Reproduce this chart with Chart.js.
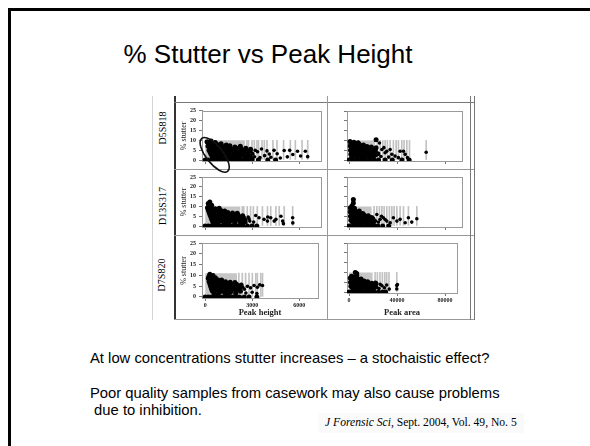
<!DOCTYPE html>
<html>
<head>
<meta charset="utf-8">
<script src="https://cdn.jsdelivr.net/npm/chart.js"></script>
<style>
  body { margin: 0; width: 590px; height: 446px; background: #fff; position: relative; overflow: hidden;
         font-family: "Liberation Sans", Arial, sans-serif; color: #000; }
  .frame { position: absolute; left: 8px; top: 8px; width: 700px; height: 600px;
           border-left: 3px solid #000; border-top: 3px solid #000; }
  .title { position: absolute; left: 0; width: 536px; top: 41px; text-align: center;
           font-size: 26px; line-height: 26px; }
  .note { position: absolute; font-size: 14.8px; line-height: 14.8px; white-space: pre; }
  .cite { position: absolute; left: 318px; top: 413px; padding: 4px 7px; background: #fafafa;
          font-family: "Liberation Serif", "Times New Roman", serif; font-size: 11.6px; line-height: 12px; white-space: pre; }
  .ln { position: absolute; }
  .rowlab { position: absolute; font-family: "Liberation Serif", "Times New Roman", serif; font-size: 10px;
            white-space: nowrap; transform: translate(-50%, -50%) rotate(-90deg); }
  canvas { position: absolute; }
</style>
</head>
<body>
<div class="frame"></div>
<div class="title">% Stutter vs Peak Height</div>

<!-- figure frame lines -->
<div class="ln" style="left:152px;top:96px;width:1px;height:224px;background:#d4d4d4"></div>
<div class="ln" style="left:174px;top:96px;width:2px;height:224px;background:#333"></div>
<div class="ln" style="left:174px;top:102px;width:300px;height:1px;background:#777"></div>
<div class="ln" style="left:174px;top:169px;width:300px;height:1px;background:#999"></div>
<div class="ln" style="left:174px;top:235px;width:300px;height:1px;background:#999"></div>
<div class="ln" style="left:174px;top:319px;width:300px;height:1px;background:#999"></div>
<div class="ln" style="left:327px;top:96px;width:1px;height:224px;background:#999"></div>
<div class="ln" style="left:470px;top:96px;width:1px;height:224px;background:#777"></div>
<div class="ln" style="left:474px;top:96px;width:1px;height:224px;background:#777"></div>

<div class="rowlab" style="left:162px;top:128px">D5S818</div>
<div class="rowlab" style="left:162px;top:206px">D13S317</div>
<div class="rowlab" style="left:161px;top:275px">D7S820</div>

<canvas id="p1" width="150" height="70" style="left:176px;top:104px"></canvas>
<canvas id="p2" width="150" height="64" style="left:176px;top:170px"></canvas>
<canvas id="p3" width="150" height="83" style="left:176px;top:236px"></canvas>
<canvas id="p4" width="140" height="64" style="left:329px;top:104px"></canvas>
<canvas id="p5" width="140" height="64" style="left:329px;top:170px"></canvas>
<canvas id="p6" width="140" height="83" style="left:329px;top:236px"></canvas>

<div class="note" style="left:90px;top:351px">At low concentrations stutter increases – a stochaistic effect?</div>
<div class="note" style="left:90px;top:386px">Poor quality samples from casework may also cause problems</div>
<div class="note" style="left:90px;top:403px"> due to inhibition.</div>
<div class="cite"><i>J Forensic Sci</i>, Sept. 2004, Vol. 49, No. 5</div>

<script>
/* Axis ticks */
var stutterTicks = [0, 5, 10, 15, 20, 25];
var heightTicks = [0, 3000, 6000];
var areaTicks = [0, 40000, 80000];

/* D5S818 - % stutter against peak height  [peak height, % stutter] */
var d5s818Height = [
  [120,9.2],[380,9.6],[650,8.9],
  [220,8.1],[480,8.4],[760,7.9],[1020,8.2],[1350,7.6],
  [180,7.0],[430,7.3],[700,6.8],[980,7.1],[1260,6.9],[1580,7.2],[1900,6.6],[2250,6.9],
  [300,6.1],[560,5.8],[830,6.2],[1120,5.9],[1420,6.0],[1700,5.6],[2000,6.0],[2300,5.7],[2600,5.9],[2900,5.4],
  [250,5.0],[520,4.8],[800,5.1],[1080,4.7],[1380,4.9],[1650,5.2],[1950,4.8],[2250,4.6],[2550,5.0],[2850,4.5],[3200,4.9],
  [320,3.9],[600,4.1],[900,3.8],[1200,4.0],[1500,3.7],[1800,4.0],[2100,3.8],[2400,3.6],[2700,3.9],[3000,3.5],[3350,4.2],
  [380,2.9],[680,3.1],[950,2.7],[1250,3.0],[1550,2.8],[1850,3.1],[2150,2.7],[2450,2.9],[2750,2.6],[3050,3.0],
  [450,1.9],[750,2.1],[1050,1.8],[1350,2.0],[1650,1.7],[1950,2.1],[2250,1.9],[2550,1.7],[2850,2.0],[3150,1.6],
  [550,1.0],[950,1.1],[1400,0.9],[1800,1.2],[2200,1.0],[2650,0.9],[3000,1.1],
  [3600,5.6],[3800,2.2],[3950,4.6],[4200,1.4],[4400,4.9],[4600,3.2],[4800,1.0],[5050,4.8],[5250,1.6],
  [5400,4.9],[5600,2.8],[5900,4.4],[6100,2.0],[6400,4.4],[6550,1.7],[3500,1.2],[4100,3.0]
];
var d5s818HeightZero = [0,200,400,600,800,1000,1200,1400,1600,1800,2000,2200,2400,2600,2800,3000,3400,4000,4500];
var d5s818HeightBand = [0, 2560];
var d5s818HeightLines = [2670,2770,2990,3140,3310,3410,3630,3780,3950,4330,4590,5010,5440,5760,6190,6550];
/* circled low-signal region: centre in data units */
var d5s818Circle = [610, 2.6];

/* D13S317 - % stutter against peak height */
var d13s317Height = [
  [200,11.5],[300,12.2],[420,10.6],[250,10.2],
  [150,9.3],[400,9.6],[650,8.8],[900,9.0],
  [200,8.2],[480,8.0],[750,8.4],[1000,7.9],[1250,7.7],
  [250,7.1],[550,6.9],[850,7.2],[1150,6.8],[1450,6.9],[1750,6.6],[2050,6.5],
  [300,6.0],[600,5.8],[900,6.1],[1200,5.7],[1500,5.9],[1800,5.6],[2100,5.8],[2400,5.3],
  [350,5.0],[650,4.8],[950,5.1],[1250,4.7],[1550,4.9],[1850,4.6],[2150,4.8],[2450,4.4],[2750,4.6],
  [400,3.9],[700,4.0],[1000,3.7],[1300,4.0],[1600,3.8],[1900,3.6],[2200,3.9],[2500,3.5],[2800,3.7],
  [450,2.9],[750,3.1],[1050,2.7],[1350,3.0],[1650,2.8],[1950,3.0],[2250,2.6],[2550,2.9],[2850,2.5],
  [500,1.9],[850,2.1],[1200,1.8],[1550,2.0],[1900,1.7],[2250,2.0],[2600,1.8],
  [700,1.1],[1300,0.9],[1900,1.2],[2400,0.9],
  [3230,5.4],[3440,4.2],[3760,3.4],[3980,2.5],[4190,4.2],[4410,2.5],[4520,3.4],[4840,5.0],[4950,2.5],
  [5590,4.2],[3100,2.0],[4000,4.6],[5000,1.2],[5600,1.6]
];
var d13s317HeightZero = [0,200,400,600,800,1000,1200,1400,1600,1800,2000,2200,2400,2700,3000,3300];
var d13s317HeightBand = [0, 2260];
var d13s317HeightLines = [2370,2470,2690,2900,3080,3330,3660,3980,4190,4520,4730,5050,5590];

/* D7S820 - % stutter against peak height */
var d7s820Height = [
  [300,10.5],[500,9.9],[250,9.6],
  [400,9.0],[650,8.9],[200,8.7],
  [300,8.1],[550,8.3],[800,8.0],[1050,7.8],
  [250,7.1],[500,7.0],[750,7.3],[1000,6.9],[1300,7.0],[1600,6.8],[1900,6.7],
  [300,6.1],[550,5.9],[800,6.2],[1100,5.8],[1400,6.0],[1700,5.7],[2000,5.9],[2300,5.5],
  [350,5.0],[600,4.8],[900,5.1],[1200,4.7],[1500,4.9],[1800,4.6],[2100,4.8],[2400,4.5],[2700,4.9],
  [400,3.9],[700,4.0],[1000,3.7],[1300,4.0],[1600,3.8],[1900,3.6],[2200,3.9],[2500,3.6],
  [450,2.9],[750,3.1],[1050,2.7],[1350,3.0],[1650,2.8],[1950,3.0],[2250,2.6],
  [550,1.9],[900,2.1],[1250,1.8],[1600,2.0],[1950,1.7],
  [800,1.0],[1400,1.1],
  [2900,4.2],[3120,5.3],[3330,4.5],[3480,5.6],[3660,5.3],[2600,1.8],[3000,2.2],[3300,1.6]
];
var d7s820HeightZero = [0,200,400,600,800,1000,1200,1400,1600,1800,2000,2200,2500,2800,3300];
var d7s820HeightBand = [0, 2040];
var d7s820HeightLines = [2150,2370,2580,2800,3010,3230,3330,3550,3660];

/* D5S818 - % stutter against peak area */
var d5s818Area = [
  [800,9.4],[4000,9.1],[7500,8.8],
  [1500,8.2],[5000,7.9],[8500,8.1],[12000,7.7],
  [1000,7.2],[4500,6.9],[8000,7.1],[11500,6.8],[15000,6.9],[18500,6.6],
  [2000,6.1],[5500,5.8],[9000,6.0],[12500,5.7],[16000,5.9],[19500,5.6],[22500,6.2],
  [1200,5.0],[4800,4.8],[8300,5.1],[11800,4.7],[15300,4.9],[18800,4.6],[21800,4.8],
  [2500,3.9],[6000,4.0],[9500,3.7],[13000,4.0],[16500,3.8],[20000,3.6],
  [1500,2.9],[5000,3.1],[8500,2.7],[12000,3.0],[15500,2.8],[19000,3.0],[22000,2.6],
  [3000,1.9],[6500,2.1],[10000,1.8],[13500,2.0],[17000,1.7],[20500,2.0],
  [2000,1.0],[7000,1.1],[12000,0.9],[17500,1.2],
  [22500,10.4],[25300,8.7],[27300,5.4],[30000,3.7],[31400,4.5],[34200,5.4],[35600,2.9],[38300,2.0],
  [41100,1.2],[42500,4.5],[45300,4.5],[46700,2.9],[48600,1.2],[64200,4.0],[24000,3.2],[26500,1.8],
  [29000,6.3],[33000,1.5]
];
var d5s818AreaZero = [0,3500,7000,10500,14000,17500,21000,24500,30000,36000,44000,50000];
var d5s818AreaBand = [0, 21700];
var d5s818AreaLines = [23600,25800,28100,30000,31900,34200,36900,39200,41100,43900,45800,48100,50300,64200];

/* D13S317 - % stutter against peak area */
var d13s317Area = [
  [3600,13.5],[3600,11.8],[2500,10.4],
  [1000,9.3],[4500,9.0],
  [1500,8.2],[5000,7.9],[8500,7.6],
  [1000,7.2],[4500,6.9],[8000,6.8],[11500,6.4],
  [2000,6.1],[5500,5.8],[9000,6.0],[12500,5.6],[16000,5.2],
  [1200,5.0],[4800,4.8],[8300,5.1],[11800,4.7],[15300,4.6],[18800,4.3],
  [2500,3.9],[6000,4.0],[9500,3.7],[13000,4.0],[16500,3.8],[20000,3.6],
  [1500,2.9],[5000,3.1],[8500,2.7],[12000,3.0],[15500,2.8],[19000,3.0],[22000,2.6],
  [3000,1.9],[6500,2.1],[10000,1.8],[13500,2.0],[17000,1.7],[20500,2.0],
  [4000,1.0],[9000,1.1],[14000,0.9],[19000,1.2],
  [23100,5.9],[25800,3.4],[28600,4.2],[31400,2.5],[34200,1.7],[36900,4.2],[39800,2.5],[42500,3.4],
  [46700,1.7],[49400,4.2],[52200,2.0],[56400,3.7],[24500,2.0],[27000,5.0],[30000,3.3]
];
var d13s317AreaZero = [0,3500,7000,10500,14000,17500,21000,24000,28000,33000];
var d13s317AreaBand = [0, 18900];
var d13s317AreaLines = [20800,23100,25300,27300,29200,31400,33600,35600,37500,39800,42500,45300,49400,56400];

/* D7S820 - % stutter against peak area */
var d7s820Area = [
  [6400,9.4],[6400,8.5],[5200,9.9],
  [2000,8.0],[4500,7.6],
  [1000,7.2],[3600,7.2],[7000,6.9],[10000,6.6],
  [2000,6.1],[5500,5.8],[9000,6.0],[12500,5.6],[15500,5.3],
  [1200,5.0],[4800,4.8],[8300,5.1],[11800,4.7],[15300,4.6],[18800,4.5],[22000,4.6],
  [2500,3.9],[6000,4.0],[9500,3.7],[13000,4.0],[16500,3.8],[20000,3.6],[23100,4.4],[26000,3.9],
  [1500,2.9],[5000,3.1],[8500,2.7],[12000,3.0],[15500,2.8],[19000,3.0],[22500,2.6],[27500,3.2],[31400,3.6],
  [3000,1.9],[6500,2.1],[10000,1.8],[13500,2.0],[17000,1.7],[20500,2.0],[25000,1.8],
  [4000,1.0],[9000,1.1],[14000,0.9],[19000,1.2],
  [39800,3.3],[39800,1.6],[40300,3.8],[29500,2.2],[33500,1.5]
];
var d7s820AreaZero = [0,3500,7000,10500,14000,17500,21000,24500,28000,30500];
var d7s820AreaBand = [0, 19800];
var d7s820AreaLines = [21700,23600,25800,27800,29800,31400,33300,39800];

/* Draw a light box round the plotting area of every panel. */
var boxFrame = {
  id: 'boxFrame',
  beforeDatasetsDraw: function(chart) {
    var a = chart.chartArea, ctx = chart.ctx;
    ctx.save();
    ctx.strokeStyle = '#9a9a9a';
    ctx.lineWidth = 1;
    ctx.strokeRect(Math.round(a.left) + 0.5, Math.round(a.top) + 0.5,
                   Math.round(a.right - a.left), Math.round(a.bottom - a.top));
    ctx.restore();
  }
};

/* Hand-drawn ellipse round the low peak heights (first panel only). */
var circleMark = {
  id: 'circleMark',
  afterDatasetsDraw: function(chart, args, opts) {
    if (!opts.centre) return;
    var ctx = chart.ctx;
    var cx = chart.scales.x.getPixelForValue(opts.centre[0]);
    var cy = chart.scales.y.getPixelForValue(opts.centre[1]);
    ctx.save();
    ctx.strokeStyle = '#111';
    ctx.lineWidth = 1.6;
    ctx.beginPath();
    ctx.ellipse(cx, cy, 21, 8.5, 52 * Math.PI / 180, 0, 2 * Math.PI);
    ctx.stroke();
    ctx.restore();
  }
};

Chart.defaults.font.family = "'Liberation Serif', 'Times New Roman', serif";
Chart.defaults.color = '#222';

/* Builds one panel of the figure. p holds the panel's data and its layout. */
function create_panel(p) {
  var pts = p.points.map(function(d) { return {x: d[0], y: d[1]}; });
  var zero = p.zero.map(function(v) { return {x: v, y: 0}; });
  var lines = p.lines.map(function(v) { return {x: v, y: p.lineTop}; });
  var band = [{x: p.band[0], y: p.bandTop}, {x: p.band[1], y: p.bandTop}];

  new Chart(document.getElementById(p.id), {
    type: 'scatter',
    data: {
      datasets: [{
          type: 'line',
          data: band,
          backgroundColor: '#c6c6c6',
          borderWidth: 0,
          pointRadius: 0,
          fill: 'origin',
          order: 3
        },
        {
          type: 'bar',
          data: lines,
          backgroundColor: '#c2c2c2',
          barThickness: 1,
          order: 2
        },
        {
          data: pts.concat(zero),
          backgroundColor: '#000',
          borderColor: '#000',
          borderWidth: 0,
/* points inside the dense cloud are drawn a bit bigger so they merge, stray ones smaller */
          pointRadius: function(c) {
            var d = c.raw;
            return (d && d.x > p.band[1] * 1.15 && d.y > 0) ? 1.8 : 2.5;
          },
          order: 1
      }]
    },
    options: {
      responsive: false,
      animation: false,
      events: [],
      layout: {
        padding: { left: 0, top: p.pad[0], right: p.pad[1], bottom: p.pad[2] }
      },
      plugins: {
        legend: { display: false },
        tooltip: { enabled: false },
        circleMark: { centre: p.circle || null }
      },
      scales: {
        x: {
          type: 'linear',
          min: p.xMin,
          max: p.xMax,
          offset: false,
          afterFit: function(s) { s.height = p.xHeight; },
          afterBuildTicks: function(s) { s.ticks = p.xTicks.map(function(v) { return {value: v}; }); },
          grid: { offset: false, drawOnChartArea: false, tickLength: 3, color: '#777' },
          border: { color: '#9a9a9a' },
          ticks: {
            display: !!p.xTitle,
            autoSkip: false,
            maxRotation: 0,
            padding: 1,
            font: { size: 6, weight: 'bold' },
            callback: function(v) { return String(v); }
          },
          title: {
            display: !!p.xTitle,
            text: p.xTitle || '',
            padding: 0,
            font: { size: 8.5, weight: 'bold' }
          }
        },
        y: {
          min: -0.5,
          max: 25,
          afterFit: function(s) { s.width = p.yWidth; },
          afterBuildTicks: function(s) { s.ticks = stutterTicks.map(function(v) { return {value: v}; }); },
          grid: { drawOnChartArea: false, tickLength: 3, color: '#777' },
          border: { color: '#9a9a9a' },
          ticks: {
            display: p.yLabels,
            autoSkip: false,
            padding: 3,
            font: { size: 6, weight: 'bold' }
          },
          title: {
            display: p.yLabels,
            text: '% stutter',
            padding: { top: 3 },
            font: { size: 8 }
          }
        }
      }
    },
    plugins: [boxFrame, circleMark]
  });
}

/* left column: peak height, right column: peak area */
create_panel({ id: 'p1', points: d5s818Height, zero: d5s818HeightZero, band: d5s818HeightBand, bandTop: 10,
  lines: d5s818HeightLines, lineTop: 10, circle: d5s818Circle, xMin: -200, xMax: 7400, xTicks: heightTicks,
  yLabels: true, yWidth: 26, xHeight: 3, pad: [6, 5, 10] });
create_panel({ id: 'p2', points: d13s317Height, zero: d13s317HeightZero, band: d13s317HeightBand, bandTop: 10,
  lines: d13s317HeightLines, lineTop: 10, xMin: -200, xMax: 7400, xTicks: heightTicks,
  yLabels: true, yWidth: 26, xHeight: 3, pad: [7, 5, 4] });
create_panel({ id: 'p3', points: d7s820Height, zero: d7s820HeightZero, band: d7s820HeightBand, bandTop: 11,
  lines: d7s820HeightLines, lineTop: 11, xMin: -200, xMax: 7200, xTicks: heightTicks, xTitle: 'Peak height',
  yLabels: true, yWidth: 26, xHeight: 20, pad: [7, 8, 1] });
create_panel({ id: 'p4', points: d5s818Area, zero: d5s818AreaZero, band: d5s818AreaBand, bandTop: 10,
  lines: d5s818AreaLines, lineTop: 10, xMin: -1700, xMax: 94000, xTicks: areaTicks,
  yLabels: false, yWidth: 18, xHeight: 3, pad: [7, 7, 4] });
create_panel({ id: 'p5', points: d13s317Area, zero: d13s317AreaZero, band: d13s317AreaBand, bandTop: 10,
  lines: d13s317AreaLines, lineTop: 10, xMin: -1700, xMax: 94000, xTicks: areaTicks,
  yLabels: false, yWidth: 18, xHeight: 3, pad: [7, 7, 4] });
create_panel({ id: 'p6', points: d7s820Area, zero: d7s820AreaZero, band: d7s820AreaBand, bandTop: 10,
  lines: d7s820AreaLines, lineTop: 10, xMin: -1700, xMax: 90000, xTicks: areaTicks, xTitle: 'Peak area',
  yLabels: false, yWidth: 18, xHeight: 25, pad: [7, 12, 1] });
</script>
</body>
</html>
